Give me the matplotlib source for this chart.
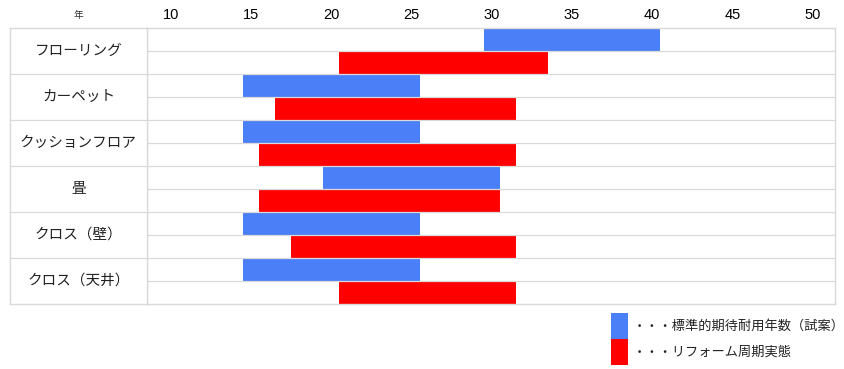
import matplotlib
matplotlib.use("Agg")
import matplotlib.pyplot as plt
from matplotlib.patches import Rectangle

categories = ['フローリング', 'カーペット', 'クッションフロア', '畳', 'クロス（壁）', 'クロス（天井）']
standard_start = [30, 15, 15, 20, 15, 15]
standard_end = [40, 25, 25, 30, 25, 25]
reform_start = [21, 17, 16, 16, 18, 21]
reform_end = [33, 31, 31, 30, 31, 31]
tick_values = [10, 15, 20, 25, 30, 35, 40, 45, 50]
series_labels = ['・・・標準的期待耐用年数（試案）', '・・・リフォーム周期実態']
unit_label = '年'

plt.rcParams['font.family'] = ['Noto Sans CJK JP', 'DejaVu Sans']

W, H = 845, 369
fig = plt.figure(figsize=(W / 100, H / 100), dpi=100)
grid_color = '#d9d9d9'
blue = '#4a7ff7'
red = '#ff0000'

def fx(px):
    return px / W

def fy(py):
    return (H - py) / H

top, bottom = 28, 304
ax = fig.add_axes([fx(147), fy(bottom), fx(835) - fx(147), fy(top) - fy(bottom)])
lab = fig.add_axes([fx(10), fy(bottom), fx(147) - fx(10), fy(top) - fy(bottom)])

n = len(categories)
nrows = 2 * n
for i in range(n):
    ax.barh(2 * i + 0.5, standard_end[i] - standard_start[i] + 1, left=standard_start[i] - 0.5,
            height=1.0, color=blue, edgecolor='none', zorder=2)
    ax.barh(2 * i + 1.5, reform_end[i] - reform_start[i] + 1, left=reform_start[i] - 0.5,
            height=1.0, color=red, edgecolor='none', zorder=2)

for r in range(1, nrows):
    ax.axhline(r, color=grid_color, lw=0.9, zorder=3)

ax.set_ylim(nrows, 0)
ax.set_xlim(8.5, 51.4)
ax.xaxis.tick_top()
ax.set_xticks(tick_values)
ax.set_xticklabels([str(v) for v in tick_values], family='Liberation Sans', fontsize=10.5)
ax.tick_params(axis='x', length=0, pad=4)
ax.set_yticks([])
for s in ax.spines.values():
    s.set_color(grid_color)
    s.set_linewidth(1.0)
    s.set_zorder(4)

# label column
lab.set_ylim(nrows, 0)
lab.set_xlim(0, 1)
lab.set_xticks([])
lab.set_yticks([])
for s in lab.spines.values():
    s.set_color(grid_color)
    s.set_linewidth(1.0)
for i in range(1, n):
    lab.axhline(2 * i, color=grid_color, lw=0.9)
for i, c in enumerate(categories):
    lab.text(0.5, 2 * i + 1, c, ha='center', va='center', fontsize=10.5, color='#222222')
lab.text(0.5, -0.55, unit_label, ha='center', va='center', fontsize=7, color='#333333',
         transform=lab.transData, clip_on=False)

# legend
for k, col in enumerate([blue, red]):
    y0 = 313 + 26 * k
    fig.add_artist(Rectangle((fx(611), fy(y0 + 26)), fx(628) - fx(611), fy(y0) - fy(y0 + 26),
                             transform=fig.transFigure, color=col, lw=0))
    fig.text(fx(633), fy(y0 + 13), series_labels[k], ha='left', va='center', fontsize=9.5, color='#222222')

fig.savefig('out.png', dpi=100)
